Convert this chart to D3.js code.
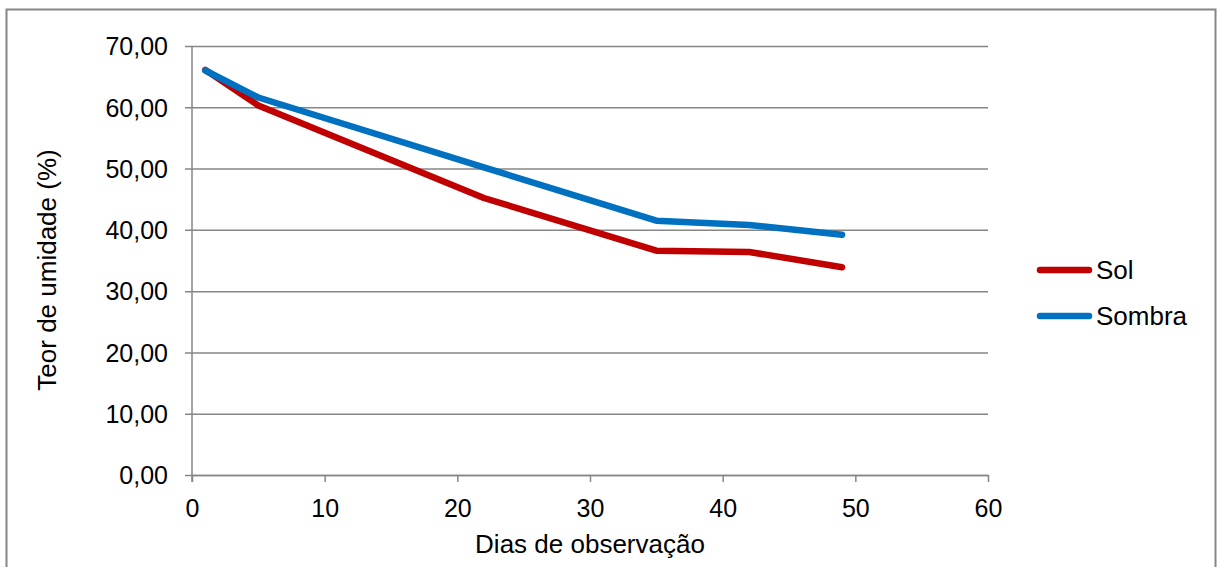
<!DOCTYPE html>
<html>
<head>
<meta charset="utf-8">
<script src="https://cdn.jsdelivr.net/npm/d3@7"></script>
<style>
  html, body { margin: 0; padding: 0; background: #fff; }
  svg { display: block; font-family: "Liberation Sans", Arial, sans-serif; }
</style>
</head>
<body>
<svg id="chart" width="1218" height="567"></svg>
<script>
// --- データ ---
const days = [1, 5, 22, 35, 42, 49];
const solValues = [66.1, 60.3, 45.2, 36.6, 36.4, 33.9];
const sombraValues = [66.0, 61.6, 50.2, 41.5, 40.8, 39.2];
const seriesNames = ['Sol', 'Sombra'];
const seriesColors = ['#c00000', '#0070c0'];
const xTicks = [0, 10, 20, 30, 40, 50, 60];
const yTicks = [0, 10, 20, 30, 40, 50, 60, 70];

const series = [
  { name: seriesNames[0], color: seriesColors[0], values: solValues },
  { name: seriesNames[1], color: seriesColors[1], values: sombraValues },
];

const svg = d3.select('#chart');
const gridColor = '#868686';

// 外枠
svg.append('rect')
  .attr('x', 6.5).attr('y', 9.5)
  .attr('width', 1209).attr('height', 600)
  .attr('fill', 'none')
  .attr('stroke', gridColor)
  .attr('stroke-width', 2);

// --- スケール ---
const x = d3.scaleLinear().domain([0, 60]).range([192, 988]);
const y = d3.scaleLinear().domain([0, 70]).range([475, 46]);

const fmt = d => d.toFixed(2).replace('.', ',');

// グリッド + Y軸
const yAxis = d3.axisLeft(y)
  .tickValues(yTicks)
  .tickSize(-(988 - 185))
  .tickPadding(0)
  .tickFormat(fmt);

const gy = svg.append('g')
  .attr('transform', 'translate(185,0)')
  .call(yAxis);
gy.select('.domain').remove();
gy.selectAll('.tick line')
  .attr('x1', 0)
  .attr('x2', 988 - 185)
  .attr('stroke', gridColor)
  .attr('stroke-width', 1.5);
gy.selectAll('.tick text')
  .attr('x', -17)
  .attr('dy', '0.35em')
  .attr('font-size', 25)
  .attr('font-family', '"Liberation Sans", Arial, sans-serif')
  .attr('fill', '#000');

// Y軸線
svg.append('line')
  .attr('x1', 192).attr('x2', 192)
  .attr('y1', 46).attr('y2', 482)
  .attr('stroke', gridColor)
  .attr('stroke-width', 1.5);

// X軸
const xAxis = d3.axisBottom(x)
  .tickValues(xTicks)
  .tickSize(7)
  .tickSizeOuter(0)
  .tickPadding(0);

const gx = svg.append('g')
  .attr('transform', 'translate(0,475)')
  .call(xAxis);
gx.select('.domain')
  .attr('stroke', gridColor)
  .attr('stroke-width', 1.5);
gx.selectAll('.tick line')
  .attr('stroke', gridColor)
  .attr('stroke-width', 1.5);
gx.selectAll('.tick text')
  .attr('y', 42)
  .attr('dy', 0)
  .attr('font-size', 25)
  .attr('font-family', '"Liberation Sans", Arial, sans-serif')
  .attr('fill', '#000');

// --- 系列 ---
const line = d3.line()
  .x((d, i) => x(days[i]))
  .y(d => y(d));

series.forEach(s => {
  svg.append('path')
    .datum(s.values)
    .attr('d', line)
    .attr('fill', 'none')
    .attr('stroke', s.color)
    .attr('stroke-width', 6.5)
    .attr('stroke-linecap', 'round')
    .attr('stroke-linejoin', 'round');
});

// --- 軸タイトル ---
svg.append('text')
  .attr('x', 590)
  .attr('y', 553)
  .attr('text-anchor', 'middle')
  .attr('font-size', 26)
  .text('Dias de observação');

svg.append('text')
  .attr('transform', 'translate(56,270) rotate(-90)')
  .attr('text-anchor', 'middle')
  .attr('font-size', 26)
  .text('Teor de umidade (%)');

// --- 凡例 ---
const legendY = [270, 316];
series.forEach((s, i) => {
  const g = svg.append('g').attr('transform', `translate(0,${legendY[i]})`);
  g.append('line')
    .attr('x1', 1040).attr('x2', 1089)
    .attr('y1', 0).attr('y2', 0)
    .attr('stroke', s.color)
    .attr('stroke-width', 6.5)
    .attr('stroke-linecap', 'round');
  g.append('text')
    .attr('x', 1096)
    .attr('dy', '0.35em')
    .attr('font-size', 26)
    .text(s.name);
});
</script>
</body>
</html>
